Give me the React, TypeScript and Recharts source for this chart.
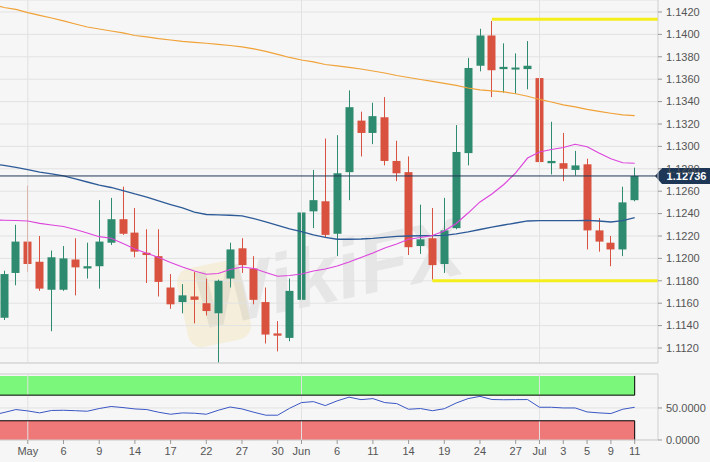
import React from "react";
import {
  ComposedChart,
  Bar,
  Line,
  XAxis,
  YAxis,
  CartesianGrid,
  ReferenceLine,
  ReferenceArea,
} from "recharts";

// ---------- data ----------
const dates = [
  "Apr 26", "Apr 29", "Apr 30",
  "May 1", "May 2", "May 3", "May 6", "May 7", "May 8", "May 9", "May 10",
  "May 13", "May 14", "May 15", "May 16", "May 17", "May 20", "May 21", "May 22",
  "May 23", "May 24", "May 27", "May 28", "May 29", "May 30", "May 31",
  "Jun 3", "Jun 4", "Jun 5", "Jun 6", "Jun 7", "Jun 10", "Jun 11", "Jun 12",
  "Jun 13", "Jun 14", "Jun 17", "Jun 18", "Jun 19", "Jun 20", "Jun 21",
  "Jun 24", "Jun 25", "Jun 26", "Jun 27", "Jun 28",
  "Jul 1", "Jul 2", "Jul 3", "Jul 4", "Jul 5", "Jul 8", "Jul 9", "Jul 10", "Jul 11",
];

const opens = [
  null, 1.1147, 1.1187, 1.1215, 1.1197, 1.1172, 1.1172, 1.1199, 1.1191, 1.1193, 1.1214,
  1.1235, 1.1223, 1.1205, 1.1202, 1.1174, 1.1161, 1.1166, 1.1160, 1.1151, 1.1182,
  1.1209, 1.1191, 1.1161, 1.1133, 1.1129, 1.1163, 1.1242, 1.1251, 1.1222, 1.1277,
  1.1323, 1.1312, 1.1326, 1.1287, 1.1277, 1.1211, 1.1218, 1.1195, 1.1227, 1.1294,
  1.1372, 1.1399, 1.1369, 1.1369, 1.1369, 1.1361, 1.1285, 1.1285, 1.1279, 1.1284,
  1.1225, 1.1214, 1.1208, 1.1252,
];
const highs = [
  null, 1.1189, 1.1230, 1.1265, 1.1220, 1.1207, 1.1211, 1.1218, 1.1214, 1.1252, 1.1254,
  1.1264, 1.1245, 1.1226, 1.1226, 1.1186, 1.1177, 1.1188, 1.1182, 1.1181, 1.1214,
  1.1218, 1.1202, 1.1174, 1.1144, 1.1182, 1.1264, 1.1279, 1.1307, 1.1310, 1.1350,
  1.1331, 1.1339, 1.1344, 1.1305, 1.1291, 1.1248, 1.1245, 1.1254, 1.1319, 1.1379,
  1.1405, 1.1412, 1.1392, 1.1383, 1.1394, 1.1373, 1.1322, 1.1312, 1.1296, 1.1289,
  1.1236, 1.1220, 1.1264, 1.1281,
];
const lows = [
  null, 1.1145, 1.1176, 1.1188, 1.1171, 1.1135, 1.1171, 1.1167, 1.1182, 1.1173, 1.1212,
  1.1221, 1.1201, 1.1178, 1.1166, 1.1155, 1.1151, 1.1142, 1.1149, 1.1107, 1.1174,
  1.1187, 1.1159, 1.1124, 1.1117, 1.1126, 1.1160, 1.1227, 1.1219, 1.1202, 1.1252,
  1.1291, 1.1302, 1.1283, 1.1269, 1.1203, 1.1204, 1.1181, 1.1187, 1.1226, 1.1283,
  1.1367, 1.1344, 1.1348, 1.1347, 1.1351, 1.1282, 1.1275, 1.1269, 1.1274, 1.1208,
  1.1206, 1.1193, 1.1202, 1.1251,
];
const closes = [
  null, 1.1186, 1.1215, 1.1195, 1.1173, 1.1201, 1.1200, 1.1192, 1.1193, 1.1215, 1.1235,
  1.1222, 1.1206, 1.1203, 1.1179, 1.1159, 1.1167, 1.1163, 1.1153, 1.1180, 1.1208,
  1.1194, 1.1163, 1.1132, 1.1131, 1.1171, 1.1241, 1.1252, 1.1221, 1.1276, 1.1335,
  1.1312, 1.1327, 1.1287, 1.1276, 1.1210, 1.1217, 1.1194, 1.1225, 1.1295, 1.1370,
  1.1399, 1.1368, 1.1371, 1.1370, 1.1372, 1.1286, 1.1287, 1.1280, 1.1283, 1.1225,
  1.1215, 1.1208, 1.1250, 1.12736,
];

const sma200 = [
  1.14267, 1.1424, 1.14223, 1.14194, 1.14169, 1.14146, 1.1412, 1.14093, 1.14066, 1.14048, 1.1403,
  1.14013, 1.1399, 1.13977, 1.13962, 1.1395, 1.13937, 1.13928, 1.13921, 1.1391, 1.13901,
  1.13888, 1.1387, 1.13848, 1.13821, 1.13794, 1.13771, 1.13754, 1.13731, 1.13718, 1.13706,
  1.13691, 1.13673, 1.13655, 1.13633, 1.13615, 1.13597, 1.1358, 1.13562, 1.13544, 1.13521,
  1.13504, 1.13495, 1.13486, 1.1347, 1.13448, 1.13419, 1.13396, 1.1337, 1.13352, 1.1333,
  1.13312, 1.13296, 1.13282, 1.13274,
];
const sma50 = [
  1.12847, 1.1283, 1.12812, 1.12792, 1.12771, 1.12754, 1.12736, 1.12709, 1.12682, 1.12655, 1.12633,
  1.12606, 1.12575, 1.12548, 1.12513, 1.12481, 1.1245, 1.12414, 1.12392, 1.12388, 1.12385,
  1.12379, 1.12356, 1.12325, 1.12294, 1.12263, 1.1224, 1.12209, 1.12187, 1.12171, 1.12171,
  1.12173, 1.12178, 1.12187, 1.12196, 1.122, 1.12202, 1.12204, 1.12206, 1.12218, 1.12236,
  1.12258, 1.1228, 1.12298, 1.12316, 1.12334, 1.12337, 1.12337, 1.12337, 1.12338, 1.1234,
  1.12334, 1.12325, 1.12338, 1.12365,
];
const sma20 = [
  1.12343, 1.12341, 1.12338, 1.12334, 1.12313, 1.12298, 1.12285, 1.12258, 1.12227, 1.12194, 1.1218,
  1.12133, 1.12084, 1.12046, 1.12008, 1.11963, 1.11923, 1.11888, 1.11858, 1.11865, 1.11901,
  1.11923, 1.1191, 1.11874, 1.1184, 1.11847, 1.11861, 1.11888, 1.11905, 1.11932, 1.11968,
  1.12008, 1.12048, 1.12093, 1.12129, 1.12171, 1.12187, 1.12204, 1.12245, 1.12312, 1.12405,
  1.12504, 1.12575, 1.1266, 1.12763, 1.12896, 1.1295, 1.12972, 1.1299, 1.13019, 1.12997,
  1.12941, 1.1289, 1.12854, 1.12849,
];
const rsi14 = [
  38.7, 42.9, 47.5, 45.4, 42.3, 46.1, 46.4, 45.7, 44.9, 49.1, 52.3,
  50.6, 48.5, 47.5, 43.3, 40.2, 42.3, 41.8, 40.2, 46.4, 51.5,
  48.5, 43.3, 38.7, 38.7, 49.5, 58.4, 59.9, 53.7, 61.1, 66.9,
  63.0, 64.6, 58.4, 56.8, 48.0, 49.1, 45.7, 48.8, 57.7, 64.6,
  68.1, 63.2, 62.8, 63.0, 63.1, 51.1, 51.1, 50.0, 50.0, 43.8,
  42.3, 41.3, 48.0, 51.1,
];

const tickDates = [
  "May 1", "May 6", "May 9", "May 14", "May 17", "May 22", "May 27", "May 30",
  "Jun 3", "Jun 6", "Jun 11", "Jun 14", "Jun 19", "Jun 24", "Jun 27",
  "Jul 1", "Jul 3", "Jul 5", "Jul 9", "Jul 11",
];
const tickLabels = [
  "May", "6", "9", "14", "17", "22", "27", "30",
  "Jun", "6", "11", "14", "19", "24", "27",
  "Jul", "3", "5", "9", "11",
];
const monthStarts = ["May 1", "Jun 3", "Jul 1"];
const priceTicks = [
  1.112, 1.114, 1.116, 1.118, 1.12, 1.122, 1.124, 1.126, 1.128, 1.13,
  1.132, 1.134, 1.136, 1.138, 1.14, 1.142,
];
const rsiTicks = [0, 50];
const resistanceLevel = 1.14135;
const resistanceFrom = "Jun 25";
const supportLevel = 1.118;
const supportFrom = "Jun 18";
const rsiUpper = 70;
const rsiLower = 30;
const lastClose = 1.12736;

// ---------- layout / styles ----------
const W = 710;
const MAIN_H = 364;
const RSI_H = 98;
const X_DOMAIN: [number, number] = [0.664, 55.96];
const Y_DOMAIN: [number, number] = [1.11066, 1.14307];
const RSI_DOMAIN: [number, number] = [0, 103];
const BG = "#f6f6f6";
const GRID = "#e2e2e2";
const GREEN = "#2e8b6f";
const RED = "#d8523f";
const NAVY = "#1e3756";
const FONT = "'Liberation Sans', Arial, sans-serif";

const rows = dates.map((d, k) => ({
  pos: k,
  date: d,
  open: opens[k],
  high: highs[k],
  low: lows[k],
  close: closes[k],
  range: opens[k] == null ? null : [lows[k], highs[k]],
  ma200: sma200[k],
  ma50: sma50[k],
  ma20: sma20[k],
  rsi: rsi14[k],
}));

const posOf = (d: string) => dates.indexOf(d);
const tickPositions = tickDates.map(posOf);
const labelFor = (v: number) => {
  const j = tickPositions.indexOf(v);
  return j >= 0 ? tickLabels[j] : "";
};
const lastPos = dates.length - 1;

const Candle = (props: any) => {
  const { x, y, width, height, payload } = props;
  if (!payload || payload.open == null || height == null) return <g />;
  const { open, close, high, low } = payload;
  const top = Math.min(y, y + height);
  const bot = Math.max(y, y + height);
  const span = high - low || 1e-9;
  const py = (v: number) => top + ((high - v) / span) * (bot - top);
  const up = close >= open;
  const color = up ? GREEN : RED;
  const c = Math.round(x + width / 2);
  let bTop = py(Math.max(open, close));
  let bBot = py(Math.min(open, close));
  if (bBot - bTop < 2) {
    const m = (bTop + bBot) / 2;
    bTop = m - 1;
    bBot = m + 1;
  }
  return (
    <g>
      <line x1={c + 0.5} x2={c + 0.5} y1={top} y2={bot} stroke={color} strokeWidth={1} />
      <rect x={c - 3.5} y={bTop} width={8} height={bBot - bTop} fill={color} />
    </g>
  );
};

const PriceTag = (props: any) => {
  const vb = props.viewBox || {};
  const x0 = (vb.x || 0) + (vb.width || 0);
  const y = vb.y || 0;
  return (
    <g>
      <polygon
        points={`${x0 - 3},${y} ${x0 + 4},${y - 8} ${W},${y - 8} ${W},${y + 8} ${x0 + 4},${y + 8}`}
        fill={NAVY}
      />
      <text
        x={x0 + 28.5}
        y={y + 4}
        fill="#ffffff"
        fontSize={11}
        fontWeight="bold"
        textAnchor="middle"
        fontFamily={FONT}
      >
        {lastClose.toFixed(5)}
      </text>
    </g>
  );
};

export default function App() {
  return (
    <div
      style={{
        position: "absolute",
        left: 0,
        top: 0,
        width: W,
        height: MAIN_H + RSI_H,
        background: BG,
        fontFamily: FONT,
        overflow: "hidden",
      }}
    >
      <div
        style={{
          position: "absolute",
          left: 182,
          top: 264,
          width: 64,
          height: 80,
          borderRadius: 14,
          background: "rgba(245, 215, 140, 0.25)",
          transform: "rotate(-12deg)",
          pointerEvents: "none",
        }}
      />
      <div
        style={{
          position: "absolute",
          left: 186,
          top: 262,
          fontSize: 82,
          fontWeight: "bold",
          fontStyle: "italic",
          color: "rgba(150, 150, 150, 0.16)",
          transform: "rotate(-12deg)",
          transformOrigin: "left top",
          pointerEvents: "none",
          fontFamily: FONT,
          whiteSpace: "nowrap",
          lineHeight: "82px",
        }}
      >
        WikiFX
      </div>
      <div style={{ position: "absolute", left: 0, top: 0 }}>
        <ComposedChart
          width={W}
          height={MAIN_H}
          data={rows}
          margin={{ top: 0, right: 0, bottom: 0, left: 0 }}
        >
          <CartesianGrid stroke={GRID} vertical={false} />
          <XAxis
            type="number"
            dataKey="pos"
            domain={X_DOMAIN}
            allowDataOverflow
            tick={false}
            tickLine={false}
            axisLine={{ stroke: "#cfcfcf" }}
            height={1}
          />
          <YAxis
            orientation="right"
            width={52}
            domain={Y_DOMAIN}
            allowDataOverflow
            ticks={priceTicks}
            interval={0}
            tickFormatter={(v: number) => v.toFixed(4)}
            tick={{ fontSize: 11, fill: "#555" }}
            tickSize={4}
            tickMargin={4}
            tickLine={{ stroke: "#999" }}
            axisLine={{ stroke: "#cfcfcf" }}
          />
          {monthStarts.map((m) => (
            <ReferenceLine key={m} x={posOf(m)} stroke={GRID} strokeWidth={1} />
          ))}
          <Line
            type="linear"
            dataKey="ma200"
            stroke="#f0a238"
            strokeWidth={1.2}
            dot={false}
            activeDot={false}
            isAnimationActive={false}
          />
          <Line
            type="linear"
            dataKey="ma50"
            stroke="#2d5b98"
            strokeWidth={1.3}
            dot={false}
            activeDot={false}
            isAnimationActive={false}
          />
          <Line
            type="linear"
            dataKey="ma20"
            stroke="#dd44dd"
            strokeWidth={1.1}
            dot={false}
            activeDot={false}
            isAnimationActive={false}
          />
          <Bar
            dataKey="range"
            barSize={9}
            shape={(p: any) => <Candle {...p} />}
            isAnimationActive={false}
          />
          <ReferenceLine
            segment={[
              { x: posOf(resistanceFrom), y: resistanceLevel },
              { x: X_DOMAIN[1], y: resistanceLevel },
            ]}
            stroke="#f4ee1c"
            strokeWidth={3}
          />
          <ReferenceLine
            segment={[
              { x: posOf(supportFrom), y: supportLevel },
              { x: X_DOMAIN[1], y: supportLevel },
            ]}
            stroke="#f4ee1c"
            strokeWidth={3}
          />
          <ReferenceLine
            y={lastClose}
            stroke={NAVY}
            strokeWidth={1}
            label={<PriceTag />}
          />
        </ComposedChart>
      </div>
      <div style={{ position: "absolute", left: 0, top: MAIN_H }}>
        <ComposedChart
          width={W}
          height={RSI_H}
          data={rows}
          margin={{ top: 10, right: 0, bottom: 0, left: 0 }}
        >
          <CartesianGrid stroke={GRID} vertical={false} />
          <XAxis
            type="number"
            dataKey="pos"
            domain={X_DOMAIN}
            allowDataOverflow
            ticks={tickPositions}
            interval={0}
            tickFormatter={labelFor}
            tick={{ fontSize: 11, fill: "#555" }}
            tickSize={4}
            tickMargin={3}
            tickLine={{ stroke: "#999" }}
            axisLine={{ stroke: "#cfcfcf" }}
            height={22}
          />
          <YAxis
            orientation="right"
            width={52}
            domain={RSI_DOMAIN}
            allowDataOverflow
            ticks={rsiTicks}
            interval={0}
            tickFormatter={(v: number) => v.toFixed(4)}
            tick={{ fontSize: 11, fill: "#555" }}
            tickSize={4}
            tickMargin={4}
            tickLine={{ stroke: "#999" }}
            axisLine={{ stroke: "#cfcfcf" }}
          />
          {monthStarts.map((m) => (
            <ReferenceLine key={m} x={posOf(m)} stroke={GRID} strokeWidth={1} />
          ))}
          <ReferenceLine y={RSI_DOMAIN[1]} stroke="#d6d6d6" />
          <ReferenceArea
            x1={X_DOMAIN[0]}
            x2={lastPos}
            y1={rsiUpper}
            y2={100}
            fill="#7bf77b"
            fillOpacity={1}
            stroke="none"
          />
          <ReferenceArea
            x1={X_DOMAIN[0]}
            x2={lastPos}
            y1={0}
            y2={rsiLower}
            fill="#ef7878"
            fillOpacity={1}
            stroke="none"
          />
          <ReferenceLine
            segment={[{ x: X_DOMAIN[0], y: rsiUpper }, { x: lastPos, y: rsiUpper }]}
            stroke="#000"
          />
          <ReferenceLine
            segment={[{ x: X_DOMAIN[0], y: rsiLower }, { x: lastPos, y: rsiLower }]}
            stroke="#000"
          />
          <ReferenceLine
            segment={[{ x: lastPos, y: rsiUpper }, { x: lastPos, y: 100 }]}
            stroke="#000"
          />
          <ReferenceLine
            segment={[{ x: lastPos, y: 0 }, { x: lastPos, y: rsiLower }]}
            stroke="#000"
          />
          <Line
            type="linear"
            dataKey="rsi"
            stroke="#3a56c4"
            strokeWidth={1}
            dot={false}
            activeDot={false}
            isAnimationActive={false}
          />
        </ComposedChart>
      </div>
    </div>
  );
}
